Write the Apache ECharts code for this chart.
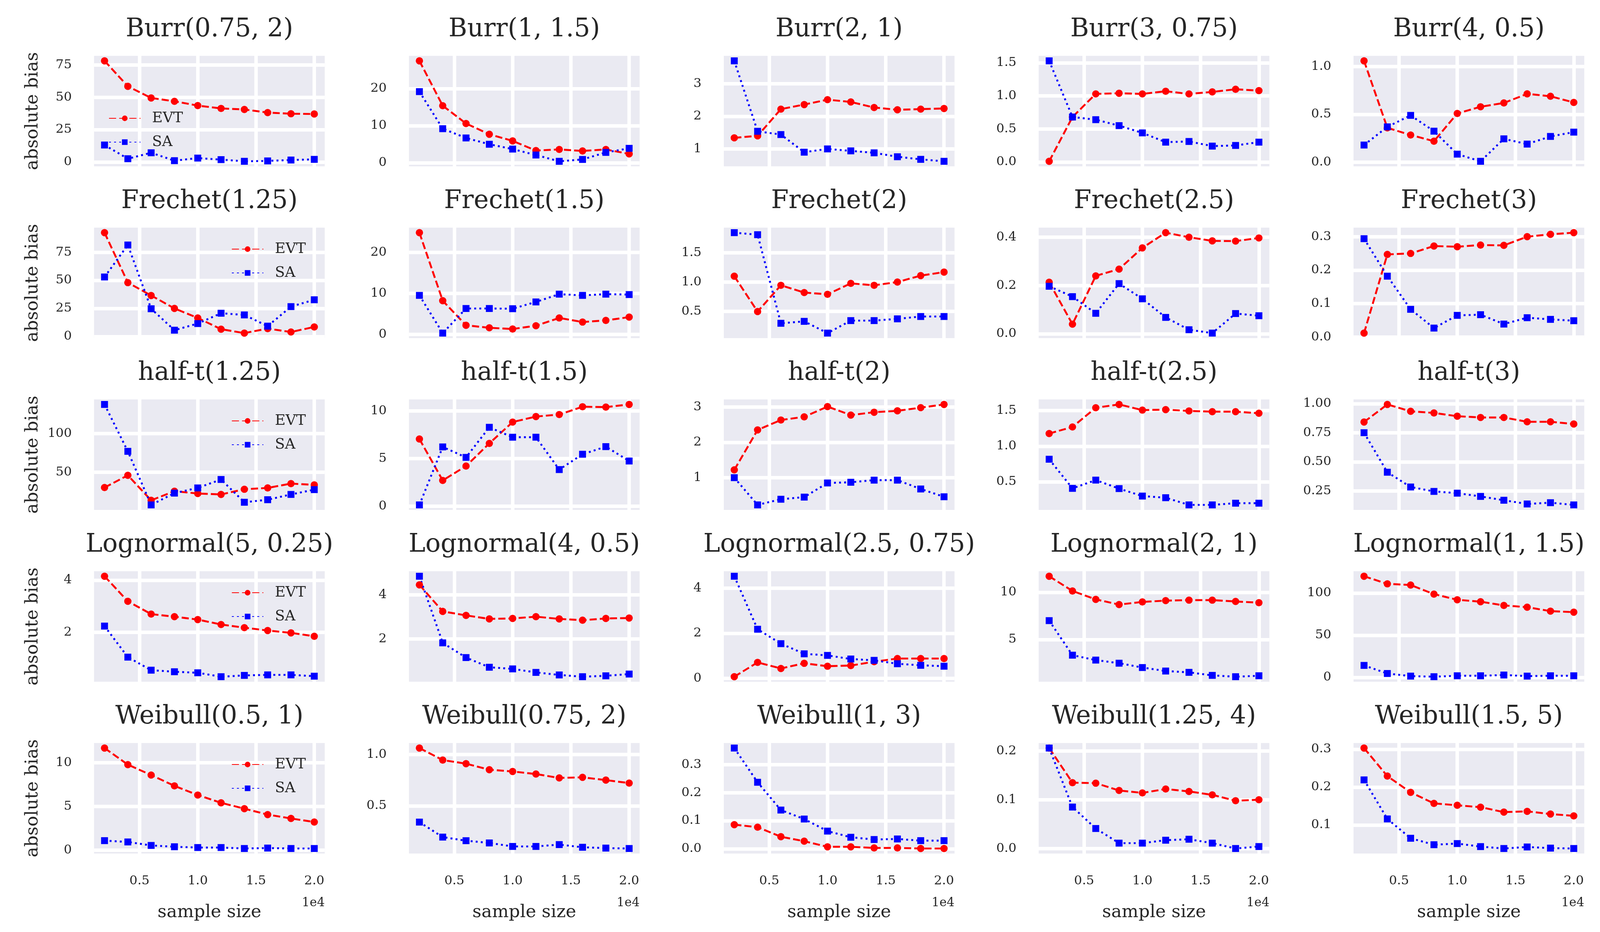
<!DOCTYPE html>
<html>
<head>
<meta charset="utf-8">
<script src="https://cdn.jsdelivr.net/npm/echarts@6/dist/echarts.min.js"></script>
<style>
html,body{margin:0;padding:0;background:#fff;overflow:hidden;}
#chart{position:absolute;left:0;top:0;}
</style>
</head>
<body>
<div id="chart"></div>
<script>
const sampleSizes = [2000, 4000, 6000, 8000, 10000, 12000, 14000, 16000, 18000, 20000];
const xTicks = [5000, 10000, 15000, 20000];

const titles = [
  'Burr(0.75, 2)', 'Burr(1, 1.5)', 'Burr(2, 1)', 'Burr(3, 0.75)', 'Burr(4, 0.5)',
  'Frechet(1.25)', 'Frechet(1.5)', 'Frechet(2)', 'Frechet(2.5)', 'Frechet(3)',
  'half-t(1.25)', 'half-t(1.5)', 'half-t(2)', 'half-t(2.5)', 'half-t(3)',
  'Lognormal(5, 0.25)', 'Lognormal(4, 0.5)', 'Lognormal(2.5, 0.75)', 'Lognormal(2, 1)', 'Lognormal(1, 1.5)',
  'Weibull(0.5, 1)', 'Weibull(0.75, 2)', 'Weibull(1, 3)', 'Weibull(1.25, 4)', 'Weibull(1.5, 5)'
];

const evt = [
  [78.2, 58.5, 49.5, 46.9, 43.6, 41.4, 40.6, 38.2, 37.3, 37.1],
  [27.5, 15.4, 10.6, 7.7, 5.9, 3.3, 3.6, 3.2, 3.6, 2.4],
  [1.34, 1.40, 2.22, 2.36, 2.51, 2.44, 2.27, 2.20, 2.22, 2.24],
  [0.01, 0.68, 1.03, 1.04, 1.03, 1.07, 1.03, 1.06, 1.10, 1.08],
  [1.06, 0.36, 0.285, 0.22, 0.51, 0.58, 0.62, 0.715, 0.69, 0.625],
  [92.5, 48, 36.5, 25, 16.5, 6.5, 3, 7, 4, 8.5],
  [24.8, 8.2, 2.2, 1.6, 1.3, 2.1, 4.0, 3.0, 3.4, 4.2],
  [1.10, 0.495, 0.944, 0.82, 0.79, 0.977, 0.944, 1.0, 1.11, 1.17],
  [0.2135, 0.04, 0.24, 0.268, 0.356, 0.419, 0.40, 0.385, 0.384, 0.397],
  [0.012, 0.247, 0.25, 0.272, 0.27, 0.275, 0.274, 0.30, 0.307, 0.312],
  [30.3, 46.1, 13.8, 25.6, 22.6, 21.4, 28.1, 29.8, 35.4, 33.7],
  [7.06, 2.71, 4.22, 6.6, 8.84, 9.42, 9.63, 10.45, 10.41, 10.69],
  [1.22, 2.35, 2.63, 2.72, 3.01, 2.77, 2.85, 2.89, 2.98, 3.07],
  [1.178, 1.27, 1.54, 1.586, 1.507, 1.513, 1.495, 1.485, 1.485, 1.463],
  [0.843, 0.994, 0.935, 0.921, 0.893, 0.882, 0.882, 0.845, 0.845, 0.826],
  [4.15, 3.19, 2.70, 2.60, 2.49, 2.30, 2.18, 2.07, 1.98, 1.85],
  [4.46, 3.25, 3.07, 2.91, 2.93, 3.01, 2.91, 2.85, 2.93, 2.95],
  [0.075, 0.71, 0.44, 0.67, 0.54, 0.57, 0.74, 0.88, 0.88, 0.88],
  [11.70, 10.14, 9.25, 8.70, 8.98, 9.12, 9.17, 9.17, 9.03, 8.90],
  [120, 111, 109.6, 98.8, 92.1, 89.8, 85.4, 83.3, 78.6, 77.4],
  [11.69, 9.79, 8.6, 7.36, 6.31, 5.42, 4.75, 4.07, 3.63, 3.22],
  [1.063, 0.946, 0.911, 0.852, 0.835, 0.81, 0.772, 0.778, 0.751, 0.722],
  [0.086, 0.077, 0.043, 0.027, 0.007, 0.007, 0.003, 0.003, 0.001, 0.001],
  [0.206, 0.135, 0.134, 0.119, 0.114, 0.122, 0.117, 0.110, 0.098, 0.100],
  [0.303, 0.229, 0.186, 0.157, 0.152, 0.147, 0.134, 0.136, 0.129, 0.124]
];

const sa = [
  [13.1, 2.5, 7.1, 1.0, 3.0, 1.8, 0.5, 0.8, 1.5, 2.0],
  [19.2, 9.2, 6.7, 5.0, 3.7, 2.1, 0.4, 0.9, 2.8, 3.9],
  [3.70, 1.54, 1.44, 0.90, 1.00, 0.94, 0.88, 0.76, 0.68, 0.62],
  [1.53, 0.68, 0.64, 0.55, 0.44, 0.30, 0.31, 0.24, 0.25, 0.30],
  [0.18, 0.37, 0.49, 0.325, 0.085, 0.01, 0.245, 0.19, 0.27, 0.315],
  [53, 81.5, 24.7, 5.6, 11.5, 20.7, 19.2, 9.2, 26.6, 32.7],
  [9.5, 0.3, 6.3, 6.3, 6.25, 7.9, 9.8, 9.5, 9.8, 9.7],
  [1.845, 1.81, 0.294, 0.327, 0.126, 0.34, 0.34, 0.37, 0.41, 0.41],
  [0.197, 0.154, 0.085, 0.208, 0.145, 0.068, 0.017, 0.003, 0.084, 0.075],
  [0.294, 0.182, 0.083, 0.027, 0.065, 0.067, 0.039, 0.058, 0.053, 0.049],
  [137.5, 77, 7.9, 23.1, 29.8, 40.7, 11.3, 14.6, 21.4, 27.6],
  [0.14, 6.23, 5.13, 8.29, 7.25, 7.25, 3.85, 5.46, 6.26, 4.75],
  [1.0, 0.23, 0.39, 0.45, 0.85, 0.87, 0.93, 0.93, 0.68, 0.46],
  [0.817, 0.408, 0.524, 0.405, 0.30, 0.277, 0.176, 0.176, 0.20, 0.20],
  [0.751, 0.411, 0.284, 0.246, 0.231, 0.203, 0.17, 0.138, 0.149, 0.13],
  [2.24, 1.05, 0.55, 0.49, 0.45, 0.30, 0.35, 0.37, 0.37, 0.32],
  [4.85, 1.82, 1.15, 0.71, 0.635, 0.475, 0.36, 0.28, 0.32, 0.40],
  [4.53, 2.18, 1.54, 1.09, 1.02, 0.86, 0.80, 0.65, 0.58, 0.54],
  [7.0, 3.34, 2.82, 2.49, 2.03, 1.66, 1.52, 1.20, 1.06, 1.16],
  [14.2, 4.6, 1.5, 0.8, 1.9, 1.9, 2.8, 1.5, 1.9, 1.9],
  [1.09, 0.94, 0.54, 0.39, 0.30, 0.30, 0.19, 0.24, 0.19, 0.19],
  [0.342, 0.196, 0.161, 0.139, 0.105, 0.105, 0.123, 0.097, 0.089, 0.085],
  [0.359, 0.237, 0.138, 0.106, 0.063, 0.041, 0.033, 0.035, 0.029, 0.029],
  [0.206, 0.085, 0.041, 0.011, 0.011, 0.017, 0.019, 0.011, 0.0, 0.004],
  [0.219, 0.116, 0.065, 0.048, 0.051, 0.043, 0.038, 0.042, 0.039, 0.038]
];

const yTicks = [
  [0, 25, 50, 75], [0, 10, 20], [1, 2, 3], [0, 0.5, 1.0, 1.5], [0, 0.5, 1.0],
  [0, 25, 50, 75], [0, 10, 20], [0.5, 1.0, 1.5], [0, 0.2, 0.4], [0, 0.1, 0.2, 0.3],
  [50, 100], [0, 5, 10], [1, 2, 3], [0.5, 1.0, 1.5], [0.25, 0.5, 0.75, 1.0],
  [2, 4], [2, 4], [0, 2, 4], [5, 10], [0, 50, 100],
  [0, 5, 10], [0.5, 1.0], [0, 0.1, 0.2, 0.3], [0, 0.1, 0.2], [0.1, 0.2, 0.3]
];
const yTickDecimals = [0,0,0,1,1, 0,0,1,1,1, 0,0,0,1,2, 0,0,0,0,0, 0,1,1,1,1];

// design space is 4168 x 2387; map to the real viewport
const W0 = 4168, H0 = 2387;
const VW = window.innerWidth || W0, VH = window.innerHeight || H0;
const SX = VW / W0, SY = VH / H0;
const X = v => v * SX;   // horizontal positions
const Y = v => v * SY;   // vertical positions
const F = v => v * SX;   // font / stroke sizes

const FONT = 'DejaVu Serif';
const TXT = '#262626';
const GRID_L = 245, GRID_PITCH_X = 820.25, GRID_W = 601;
const GRID_T = 143, GRID_PITCH_Y = 440, GRID_H = 283;

const margin = v => ({ lo: v.min - 0.05 * (v.max - v.min), hi: v.max + 0.05 * (v.max - v.min) });

const el = document.getElementById('chart');
el.style.width = VW + 'px';
el.style.height = VH + 'px';

const grids = [], xAxes = [], yAxes = [], series = [], titleArr = [], legends = [];
for (let i = 0; i < 25; i++) {
  const r = Math.floor(i / 5), c = i % 5;
  const left = GRID_L + GRID_PITCH_X * c;
  const top = GRID_T + GRID_PITCH_Y * r;
  grids.push({ left: X(left), top: Y(top), width: X(GRID_W), height: Y(GRID_H), show: true,
    backgroundColor: '#EAEAF2', borderWidth: 0, containLabel: false });
  titleArr.push({ text: titles[i], left: X(left + GRID_W / 2), top: Y(44 + GRID_PITCH_Y * r),
    textAlign: 'center', padding: 0,
    textStyle: { fontFamily: FONT, fontSize: F(66), fontWeight: 'normal', color: TXT } });
  xAxes.push({
    type: 'value', gridIndex: i,
    min: v => margin(v).lo, max: v => margin(v).hi,
    axisLine: { show: false },
    axisTick: { show: false, customValues: xTicks },
    axisLabel: { show: r === 4, customValues: xTicks, margin: Y(55),
      formatter: v => (v / 1e4).toFixed(1),
      fontFamily: FONT, fontSize: F(33), color: TXT },
    splitLine: { show: true, lineStyle: { color: '#ffffff', width: F(9) } },
    name: r === 4 ? 'sample size' : '', nameLocation: 'middle', nameGap: Y(129),
    nameTextStyle: { fontFamily: FONT, fontSize: F(46), color: TXT }
  });
  const dec = yTickDecimals[i];
  yAxes.push({
    type: 'value', gridIndex: i,
    min: v => margin(v).lo, max: v => margin(v).hi,
    axisLine: { show: false },
    axisTick: { show: false, customValues: yTicks[i] },
    axisLabel: { show: true, customValues: yTicks[i], margin: X(58),
      formatter: v => v.toFixed(dec),
      fontFamily: FONT, fontSize: F(33), color: TXT },
    splitLine: { show: true, lineStyle: { color: '#ffffff', width: F(9) } },
    name: c === 0 ? 'absolute bias' : '', nameLocation: 'middle', nameGap: X(136),
    nameTextStyle: { fontFamily: FONT, fontSize: F(46), color: TXT }
  });
  series.push({
    name: 'EVT', type: 'line', xAxisIndex: i, yAxisIndex: i,
    data: sampleSizes.map((x, j) => [x, evt[i][j]]),
    symbol: 'circle', symbolSize: F(19), showAllSymbol: true,
    itemStyle: { color: '#ff0000' },
    lineStyle: { color: '#ff0000', width: F(5), type: [F(18.5), F(8)] },
    animation: false, silent: true
  });
  series.push({
    name: 'SA', type: 'line', xAxisIndex: i, yAxisIndex: i,
    data: sampleSizes.map((x, j) => [x, sa[i][j]]),
    symbol: 'rect', symbolSize: F(18), showAllSymbol: true,
    itemStyle: { color: '#0000ff' },
    lineStyle: { color: '#0000ff', width: F(5), type: [F(5), F(8.25)] },
    animation: false, silent: true
  });
}

const legendPos = [
  { left: 283, top: 283 },
  { left: 603, top: GRID_T + GRID_PITCH_Y * 1 + 35 },
  { left: 603, top: GRID_T + GRID_PITCH_Y * 2 + 35 },
  { left: 603, top: GRID_T + GRID_PITCH_Y * 3 + 35 },
  { left: 603, top: GRID_T + GRID_PITCH_Y * 4 + 35 }
];
legendPos.forEach(p => {
  legends.push({
    data: ['EVT', 'SA'], orient: 'vertical', left: X(p.left), top: Y(p.top),
    padding: 0, itemWidth: X(82), itemHeight: Y(18), itemGap: Y(21),
    selectedMode: false,
    textStyle: { fontFamily: FONT, fontSize: F(38), color: TXT, lineHeight: Y(40), padding: [0, 0, 0, X(25)] }
  });
});

const chart = echarts.init(el, null, { renderer: 'canvas' });
chart.setOption({
  backgroundColor: '#ffffff',
  animation: false,
  title: titleArr,
  legend: legends,
  grid: grids,
  xAxis: xAxes,
  yAxis: yAxes,
  series: series,
  graphic: [0, 1, 2, 3, 4].map(c => ({
    type: 'text',
    x: X(GRID_L + GRID_PITCH_X * c + GRID_W), y: Y(2313),
    style: { text: '1e4', fontFamily: FONT, fontSize: F(32), fill: TXT, align: 'right', verticalAlign: 'middle' }
  }))
});
</script>
</body>
</html>
